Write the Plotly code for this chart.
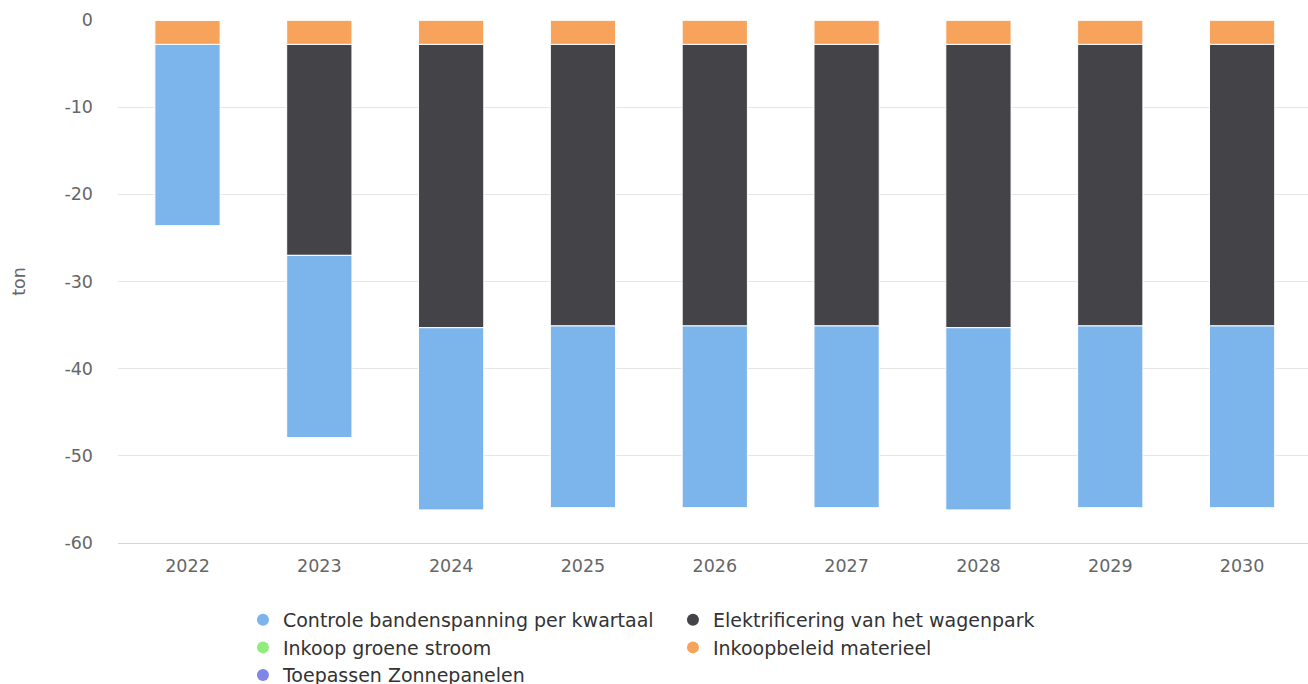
import plotly.graph_objects as go

years = ["2022", "2023", "2024", "2025", "2026", "2027", "2028", "2029", "2030"]

controle = [-20.8, -20.9, -20.9, -20.85, -20.85, -20.85, -20.9, -20.85, -20.85]
elektrificering = [0, -24.2, -32.5, -32.3, -32.3, -32.3, -32.5, -32.3, -32.3]
groene_stroom = [0, 0, 0, 0, 0, 0, 0, 0, 0]
inkoopbeleid = [-2.8, -2.8, -2.8, -2.8, -2.8, -2.8, -2.8, -2.8, -2.8]
zonnepanelen = [0, 0, 0, 0, 0, 0, 0, 0, 0]

series_names = [
    "Controle bandenspanning per kwartaal",
    "Elektrificering van het wagenpark",
    "Inkoop groene stroom",
    "Inkoopbeleid materieel",
    "Toepassen Zonnepanelen",
]
series_values = [controle, elektrificering, groene_stroom, inkoopbeleid, zonnepanelen]
colors = ["#7cb5ec", "#434348", "#90ed7d", "#f7a35c", "#8085e9"]

y_tick_values = [0, -10, -20, -30, -40, -50, -60]
y_tick_labels = ["0", "-10", "-20", "-30", "-40", "-50", "-60"]

FONT = "DejaVu Sans"
fig = go.Figure()

# Highcharts stacks first series furthest from zero -> add in reverse for plotly
for name, vals, col in reversed(list(zip(series_names, series_values, colors))):
    fig.add_trace(go.Bar(
        x=years, y=vals, name=name, showlegend=False,
        marker=dict(color=col, line=dict(color="white", width=1)),
    ))

# legend entries with circle symbols
for name, col in zip(series_names, colors):
    fig.add_trace(go.Scatter(
        x=[years[0]], y=[None], mode="markers", name=name,
        marker=dict(color=col, size=16, symbol="circle"),
    ))

fig.update_layout(
    barmode="relative",
    bargap=0.505,
    width=1308, height=684,
    margin=dict(l=118, r=0, t=20, b=141),
    plot_bgcolor="white", paper_bgcolor="white",
    font=dict(family=FONT, size=17, color="#666666"),
    showlegend=True,
    legend=dict(
        orientation="h", x=0.105, xanchor="left",
        yref="container", y=0.1216, yanchor="top",
        entrywidth=385, entrywidthmode="pixels",
        font=dict(family=FONT, size=19, color="#333333"),
        itemsizing="constant",
    ),
    xaxis=dict(
        showgrid=False, showline=True, linecolor="#ccd6eb", linewidth=1,
        ticks="", tickfont=dict(size=17.5, color="#666666"),
        ticklabelstandoff=7, automargin=False,
    ),
    yaxis=dict(
        range=[-60, 0], tickvals=y_tick_values, ticktext=y_tick_labels,
        showgrid=True, gridcolor="#e6e6e6", gridwidth=1,
        zeroline=False, showline=False, ticks="",
        tickfont=dict(size=17.5, color="#666666"), ticklabelstandoff=24,
        title=dict(text="ton", font=dict(size=17.5, color="#666666"), standoff=34),
        automargin=False,
    ),
)

fig.write_html("out.html", config={"displayModeBar": False},
               post_script="document.body.style.margin='0';")
